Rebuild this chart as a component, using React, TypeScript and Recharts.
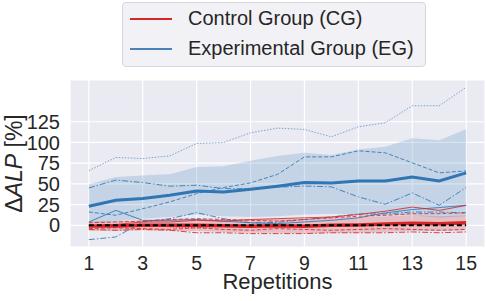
import React from 'react'
import { ComposedChart, Line, Area, XAxis, YAxis, CartesianGrid, Legend, Label } from 'recharts'

// repetitions on the x axis
const reps = [1, 2, 3, 4, 5, 6, 7, 8, 9, 10, 11, 12, 13, 14, 15]
const xTicks = [1, 3, 5, 7, 9, 11, 13, 15]
const yTicks = [0, 25, 50, 75, 100, 125]

// experimental group (EG): mean, band and individual subjects
const egMean = [23, 30.2, 32.3, 36.3, 41.5, 40.3, 43.5, 47.2, 51.6, 51.2, 53.6, 53.6, 58.4, 53.6, 63.3]
const egUpper = [49.6, 58.4, 60, 61.7, 70.5, 71.4, 77.8, 83.8, 87.5, 85, 91.5, 94.7, 105.2, 102.8, 116]
const egLower = [3, 5, 8, 10, 13, 11, 10, 11, 13, 14, 13, 12, 12, 9, 11]
const egA = [66, 81.9, 80.6, 83.8, 98.8, 100, 111.7, 117.3, 115.7, 106.8, 118.9, 123.8, 144.3, 144.3, 166.5]
const egB = [45.1, 54.6, 51.6, 47.2, 48.4, 44.3, 44, 46, 47.4, 46.4, 34.3, 25.4, 39.1, 24.2, 45.6]
const egC = [16.1, 12.1, 20, 28.2, 38.3, 45.6, 51.2, 61.5, 82.6, 82.6, 89.9, 87.5, 75.4, 63.3, 65.7]
const egD = [4, 18, 6, 6, 7, 5, 3, 2, 4, 6, 9, 15, 19, 21.4, 24.2]
const egE = [-17.3, -14.1, 4, 8, 15.3, 8, 3, 3.5, 7, 10, 13.7, 13.7, 16, 16, 15]

// control group (CG)
const cgMean = [-1, -0.8, 0, 0, 0, -0.5, -1, -0.5, -1, 0, 0.5, 1.5, 2.5, 2, 3]
const cgUpper = [5, 5, 6, 7, 7, 7, 7, 8, 8, 9, 10, 11, 12, 11, 12]
const cgLower = [-7, -7, -6, -7, -7, -8, -9, -9, -10, -9, -9, -8, -7, -7, -6]
const cg1 = [0, 1, 4, 4, 6, 5, 7, 8, 9, 10, 13, 17, 22, 18, 24]
const cg2 = [3, 4, 5, 7, 8, 7, 6, 5, 7, 9, 11, 12, 14, 14, 15]
const cg3 = [-2, -1, 0, -2, -3, -1, -2, 0, -1, 1, 0, 2, 3, 2, 4]
const cg4 = [-5, -6, -5, -6, -9, -9, -10, -10, -10, -9, -9, -9, -8, -9, -8]
const cg5 = [-4, -3, -4, -5, -3, -5, -6, -4, -5, -6, -5, -4, -5, -6, -5]

// zero reference drawn over the repetitions
const zeroLine = [0, 0, 0, 0, 0, 0, 0, 0, 0, 0, 0, 0, 0, 0, 0]

const BLUE = '#2f76b3'
const RED = '#d62728'
const TEXT = '#262626'
const FONT = '"Liberation Sans", Arial, sans-serif'

const data = reps.map((r, i) => ({
  rep: r,
  egMean: egMean[i],
  egBand: [egLower[i], egUpper[i]],
  egA: egA[i],
  egB: egB[i],
  egC: egC[i],
  egD: egD[i],
  egE: egE[i],
  cgMean: cgMean[i],
  cgBand: [cgLower[i], cgUpper[i]],
  cg1: cg1[i],
  cg2: cg2[i],
  cg3: cg3[i],
  cg4: cg4[i],
  cg5: cg5[i],
  zero: zeroLine[i],
}))

const egLines = [
  { key: 'egA', dash: '1.5 1.5', opacity: 0.6 },
  { key: 'egB', dash: '6 2 1.5 2', opacity: 0.85 },
  { key: 'egC', dash: '4 2', opacity: 0.85 },
  { key: 'egD', dash: undefined, opacity: 0.85 },
  { key: 'egE', dash: '6 2 1.5 2', opacity: 0.85 },
]

const cgLines = [
  { key: 'cg1', dash: undefined },
  { key: 'cg2', dash: '4 2' },
  { key: 'cg3', dash: '1.5 1.5' },
  { key: 'cg4', dash: '6 2 1.5 2' },
  { key: 'cg5', dash: '4 2' },
]

const LegendBox = () => (
  <div
    style={{
      width: 302,
      height: 63,
      background: '#f2f2f6',
      border: '1px solid #d6d6de',
      borderRadius: 4,
      fontFamily: FONT,
      fontSize: 20,
      color: TEXT,
      position: 'relative',
    }}
  >
    {[
      { label: 'Control Group (CG)', color: RED, top: 16 },
      { label: 'Experimental Group (EG)', color: '#4a82b8', top: 46 },
    ].map((item) => (
      <div key={item.label}>
        <div style={{ position: 'absolute', left: 7, top: item.top - 1, width: 42, height: 2, background: item.color }} />
        <div style={{ position: 'absolute', left: 65, top: item.top - 12, lineHeight: '23px', whiteSpace: 'nowrap' }}>
          {item.label}
        </div>
      </div>
    ))}
  </div>
)

export default function App() {
  return (
    <div style={{ position: 'absolute', left: 0, top: 0 }}>
      <ComposedChart width={486} height={301} data={data} margin={{ top: 80, right: 1, bottom: 0, left: 0 }}>
        <CartesianGrid fill="#eaeaf2" stroke="#ffffff" strokeWidth={1.2} />
        <XAxis
          dataKey="rep"
          type="number"
          domain={[0.3, 15.7]}
          ticks={xTicks}
          interval={0}
          allowDataOverflow
          axisLine={false}
          tickLine={false}
          tickSize={0}
          tickMargin={9}
          height={54}
          tick={{ fill: TEXT, fontSize: 19.5, fontFamily: FONT }}
        >
          <Label
            content={({ viewBox }: any) => (
              <text
                x={viewBox.x + viewBox.width / 2}
                y={viewBox.y + 42}
                textAnchor="middle"
                fill={TEXT}
                fontSize={22}
                fontFamily={FONT}
              >
                Repetitions
              </text>
            )}
          />
        </XAxis>
        <YAxis
          type="number"
          domain={[-26.2, 175.4]}
          ticks={yTicks}
          interval={0}
          allowDataOverflow
          axisLine={false}
          tickLine={false}
          tickSize={0}
          tickMargin={10}
          width={70}
          tick={{ fill: TEXT, fontSize: 20, fontFamily: FONT }}
        >
          <Label
            content={({ viewBox }: any) => {
              const cy = viewBox.y + viewBox.height / 2
              return (
                <text
                  x={22}
                  y={cy}
                  transform={`rotate(-90, 22, ${cy})`}
                  textAnchor="middle"
                  fill={TEXT}
                  fontSize={23}
                  fontFamily={FONT}
                >
                  Δ<tspan fontStyle="italic">ALP</tspan> [%]
                </text>
              )
            }}
          />
        </YAxis>
        <Legend
          layout="horizontal"
          verticalAlign="middle"
          align="center"
          wrapperStyle={{ top: 2, left: 122, width: 304 }}
          content={() => <LegendBox />}
        />

        <Area dataKey="egBand" stroke="none" fill={BLUE} fillOpacity={0.2} isAnimationActive={false} legendType="none" />
        {egLines.map((l) => (
          <Line
            key={l.key}
            dataKey={l.key}
            stroke={BLUE}
            strokeOpacity={l.opacity}
            strokeWidth={1}
            strokeDasharray={l.dash}
            dot={false}
            isAnimationActive={false}
            legendType="none"
          />
        ))}
        <Line dataKey="egMean" stroke={BLUE} strokeWidth={3} dot={false} isAnimationActive={false} legendType="none" />

        <Area dataKey="cgBand" stroke="none" fill={RED} fillOpacity={0.22} isAnimationActive={false} legendType="none" />
        {cgLines.map((l) => (
          <Line
            key={l.key}
            dataKey={l.key}
            stroke={RED}
            strokeOpacity={0.85}
            strokeWidth={1}
            strokeDasharray={l.dash}
            dot={false}
            isAnimationActive={false}
            legendType="none"
          />
        ))}
        <Line dataKey="cgMean" stroke={RED} strokeWidth={3.5} dot={false} isAnimationActive={false} legendType="none" />
        <Line
          dataKey="zero"
          stroke="#000000"
          strokeWidth={2}
          strokeDasharray="5 3"
          dot={false}
          isAnimationActive={false}
          legendType="none"
        />
      </ComposedChart>
    </div>
  )
}
